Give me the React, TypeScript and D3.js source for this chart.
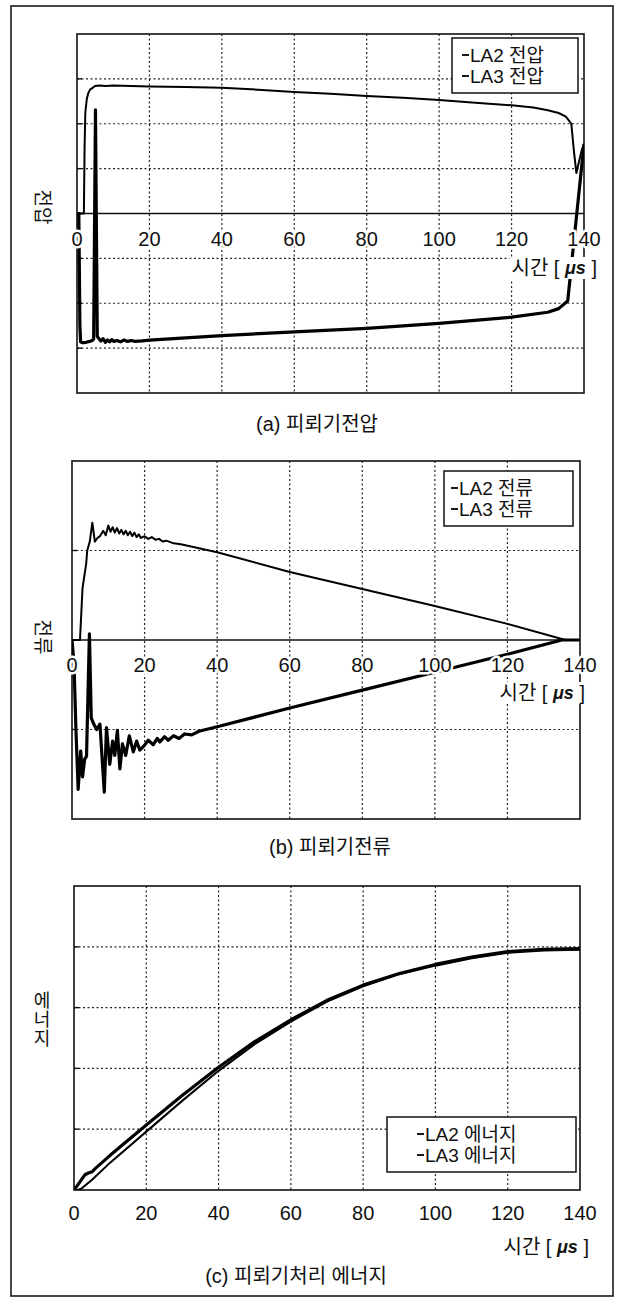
import React, { useEffect, useRef } from "react";
import * as d3 from "d3";

const W = 621;
const H = 1301;
const FONT = "'Liberation Sans', 'Noto Sans CJK KR', sans-serif";

// time axis (µs)
const timeTicks = [0, 20, 40, 60, 80, 100, 120, 140];

// (a) arrester voltage
const voltTimeLA2 = [0, 1.9, 2.1, 2.3, 2.7, 3.1, 3.6, 4.3, 5.0, 6, 8, 10, 15, 20, 30, 40, 50, 60, 70, 80, 90, 100, 110, 120, 126, 130, 133, 135, 136.5, 137.2, 137.9, 138.6, 139.4, 140];
const voltLA2 = [0, 0, 1.5, 2.25, 2.55, 2.68, 2.76, 2.8, 2.84, 2.85, 2.84, 2.85, 2.84, 2.83, 2.82, 2.8, 2.76, 2.71, 2.67, 2.62, 2.58, 2.53, 2.47, 2.41, 2.36, 2.3, 2.24, 2.16, 2.0, 1.4, 0.9, 1.15, 1.42, 1.55];
const voltTimeLA3 = [0, 0.5, 0.8, 1.0, 1.5, 2.5, 3.5, 4.2, 4.6, 5.1, 5.6, 6.1, 6.6, 7.2, 7.8, 8.4, 9.0, 9.6, 10.2, 11, 12, 13, 14, 15, 16, 18, 20, 30, 40, 60, 80, 100, 120, 130, 133, 135.5, 137.5, 140];
const voltLA3 = [0, 0, -2.5, -2.86, -2.88, -2.87, -2.85, -2.83, -2.8, 2.31, -2.74, -2.79, -2.84, -2.79, -2.87, -2.82, -2.86, -2.81, -2.85, -2.83, -2.86, -2.82, -2.85, -2.83, -2.85, -2.84, -2.82, -2.77, -2.72, -2.64, -2.56, -2.45, -2.31, -2.2, -2.12, -1.95, -0.4, 1.55];
const voltGrid = [-3, -2, -1, 1, 2, 3];

// (b) arrester current
const currTimeLA2 = [0, 2.2, 2.9, 3.9, 4.2, 4.9, 5.6, 6.3, 7.0, 7.7, 8.6, 9.3, 10.0, 10.6, 11.2, 11.8, 12.4, 13.0, 13.6, 14.2, 14.8, 15.4, 16.0, 16.6, 17.2, 17.8, 18.4, 19.0, 20, 21, 22, 23, 24, 25, 26, 28, 30, 40, 60, 80, 100, 120, 136, 140];
const currLA2 = [0, 0, 0.58, 0.85, 1.0, 1.1, 1.31, 1.1, 1.14, 1.16, 1.22, 1.17, 1.28, 1.21, 1.26, 1.2, 1.25, 1.19, 1.23, 1.18, 1.22, 1.17, 1.21, 1.16, 1.2, 1.15, 1.18, 1.14, 1.16, 1.13, 1.15, 1.12, 1.13, 1.1, 1.11, 1.08, 1.07, 0.98, 0.76, 0.57, 0.38, 0.18, 0, 0];
const currTimeLA3 = [0, 0.55, 1.1, 1.7, 2.4, 2.9, 3.5, 4.0, 4.8, 5.3, 6.0, 6.8, 7.7, 8.9, 9.5, 10.4, 11.2, 11.8, 12.5, 13.2, 13.9, 14.8, 15.8, 16.9, 17.8, 18.7, 19.9, 21, 22.4, 23.5, 24.2, 25.5, 26.5, 28, 29.5, 31, 33, 35, 40, 60, 80, 100, 120, 135, 140];
const currLA3 = [0, -0.27, -1.02, -1.67, -1.24, -1.53, -1.33, -1.3, 0.07, -0.87, -0.94, -1.0, -0.94, -1.7, -0.98, -1.39, -1.13, -1.29, -1.01, -1.44, -1.16, -1.29, -1.07, -1.25, -1.13, -1.23, -1.18, -1.12, -1.17, -1.1, -1.14, -1.08, -1.12, -1.07, -1.1, -1.05, -1.06, -1.02, -0.97, -0.76, -0.56, -0.36, -0.16, 0, 0];
const currGrid = [-1, 1];

// (c) arrester energy
const energyTimeLA2 = [0, 1, 2, 5, 10, 20, 30, 40, 50, 60, 70, 80, 90, 100, 110, 120, 130, 140];
const energyLA2 = [0, 0, 0.02, 0.17, 0.45, 0.96, 1.47, 1.96, 2.4, 2.77, 3.1, 3.35, 3.55, 3.69, 3.81, 3.9, 3.94, 3.95];
const energyTimeLA3 = [0, 1, 3, 4, 5, 6, 10, 20, 30, 40, 50, 60, 70, 80, 90, 100, 110, 120, 130, 140];
const energyLA3 = [0, 0.08, 0.25, 0.28, 0.3, 0.36, 0.57, 1.07, 1.56, 2.02, 2.44, 2.8, 3.12, 3.37, 3.56, 3.71, 3.83, 3.92, 3.96, 3.97];
const energyGrid = [1, 2, 3, 4];

const seriesNames = ["LA2", "LA3"];

const App = () => {
    const svgRef = useRef<SVGSVGElement>(null);

    useEffect(() => {
        const zip = (ts: number[], vs: number[]) => ts.map((t, i) => [t, vs[i]] as [number, number]);

        const panels = [
            {
                key: "a", left: 77, right: 584, top: 34, bottom: 393, yMin: -4, yMax: 4, grid: voltGrid, zero: true,
                tickY: 239, titleX: 597, titleY: 268,
                yLabel: "전압", yLabelY: 207, stacked: false,
                legend: { x: 452, y: 38, w: 126, h: 55, dashX: 462, textX: 470, rows: [55, 76] },
                unit: "전압", caption: "(a) 피뢰기전압", capX: 317, capY: 424,
                lines: [zip(voltTimeLA2, voltLA2), zip(voltTimeLA3, voltLA3)],
            },
            {
                key: "b", left: 72, right: 580, top: 461, bottom: 819, yMin: -2, yMax: 2, grid: currGrid, zero: true,
                tickY: 665, titleX: 585, titleY: 693,
                yLabel: "전류", yLabelY: 637, stacked: false,
                legend: { x: 444, y: 471, w: 129, h: 55, dashX: 451, textX: 459, rows: [488, 509] },
                unit: "전류", caption: "(b) 피뢰기전류", capX: 330, capY: 847,
                lines: [zip(currTimeLA2, currLA2), zip(currTimeLA3, currLA3)],
            },
            {
                key: "c", left: 74, right: 580, top: 886, bottom: 1190, yMin: 0, yMax: 5, grid: energyGrid, zero: false,
                tickY: 1213, titleX: 589, titleY: 1247,
                yLabel: "에너지", yLabelY: 1020, stacked: true,
                legend: { x: 387, y: 1117, w: 189, h: 55, dashX: 417, textX: 425, rows: [1134, 1155] },
                unit: "에너지", caption: "(c) 피뢰기처리 에너지", capX: 296, capY: 1276,
                lines: [zip(energyTimeLA2, energyLA2), zip(energyTimeLA3, energyLA3)],
            },
        ];

        const svg = d3.select(svgRef.current);
        svg.selectAll("*").remove();

        svg.append("rect").attr("width", W).attr("height", H).attr("fill", "#fff");

        // outer frame
        svg.append("rect")
            .attr("x", 11).attr("y", 6).attr("width", 602).attr("height", 1290)
            .attr("fill", "none").attr("stroke", "#1a1a1a").attr("stroke-width", 1.6);

        panels.forEach((p) => {
            const x = d3.scaleLinear().domain([0, 140]).range([p.left, p.right]);
            const y = d3.scaleLinear().domain([p.yMin, p.yMax]).range([p.bottom, p.top]);
            const g = svg.append("g").style("font-family", FONT);

            g.append("clipPath").attr("id", `clip-${p.key}`)
                .append("rect")
                .attr("x", p.left).attr("y", p.top)
                .attr("width", p.right - p.left).attr("height", p.bottom - p.top);

            // dotted grid
            g.selectAll(".vgrid").data(timeTicks.slice(1, -1)).join("line")
                .attr("x1", (d) => x(d)).attr("x2", (d) => x(d))
                .attr("y1", p.top).attr("y2", p.bottom)
                .attr("stroke", "#222").attr("stroke-width", 1.2).attr("stroke-dasharray", "2 2.5");
            g.selectAll(".hgrid").data(p.grid).join("line")
                .attr("x1", p.left).attr("x2", p.right)
                .attr("y1", (d) => y(d)).attr("y2", (d) => y(d))
                .attr("stroke", "#222").attr("stroke-width", 1.2).attr("stroke-dasharray", "2 2.5");

            // small inner ticks on left border
            g.selectAll(".ltick").data(p.zero ? [...p.grid, 0] : p.grid).join("line")
                .attr("x1", p.left).attr("x2", p.left + 5)
                .attr("y1", (d) => y(d)).attr("y2", (d) => y(d))
                .attr("stroke", "#111").attr("stroke-width", 1.4);

            if (p.zero) {
                g.append("line")
                    .attr("x1", p.left).attr("x2", p.right)
                    .attr("y1", y(0)).attr("y2", y(0))
                    .attr("stroke", "#111").attr("stroke-width", 1.6);
            }

            // plot border
            g.append("rect")
                .attr("x", p.left).attr("y", p.top)
                .attr("width", p.right - p.left).attr("height", p.bottom - p.top)
                .attr("fill", "none").attr("stroke", "#111").attr("stroke-width", 1.6);

            // series
            const lineGen = d3.line<[number, number]>()
                .x((d) => x(d[0]))
                .y((d) => y(d[1]));
            const widths = [2, 3.2];
            p.lines.forEach((pts, i) => {
                g.append("path")
                    .datum(pts)
                    .attr("clip-path", `url(#clip-${p.key})`)
                    .attr("d", lineGen)
                    .attr("fill", "none")
                    .attr("stroke", "#000")
                    .attr("stroke-width", widths[i])
                    .attr("stroke-linejoin", "round");
            });

            // tick labels
            g.selectAll(".tlabel").data(timeTicks).join("text")
                .attr("x", (d) => x(d)).attr("y", p.tickY)
                .attr("text-anchor", "middle").attr("dominant-baseline", "central")
                .attr("font-size", 20).attr("fill", "#111")
                .attr("stroke", "#fff").attr("stroke-width", 5).attr("stroke-linejoin", "round")
                .attr("paint-order", "stroke")
                .text((d) => d);

            // axis title with white background
            const tg = g.append("g");
            const title = tg.append("text")
                .attr("x", p.titleX).attr("y", p.titleY)
                .attr("text-anchor", "end").attr("dominant-baseline", "central")
                .attr("font-size", 20).attr("fill", "#111");
            title.append("tspan").text("시간 [ ");
            title.append("tspan").attr("font-style", "italic").attr("font-weight", "bold").attr("font-size", 18).text("μs");
            title.append("tspan").text(" ]");
            const bb = (title.node() as SVGTextElement).getBBox();
            tg.insert("rect", "text")
                .attr("x", bb.x - 2).attr("y", bb.y)
                .attr("width", bb.width + 4).attr("height", bb.height)
                .attr("fill", "#fff");

            // y label
            if (p.stacked) {
                const chars = Array.from(p.yLabel);
                chars.forEach((c, i) => {
                    g.append("text")
                        .attr("x", 42).attr("y", p.yLabelY + (i - (chars.length - 1) / 2) * 19)
                        .attr("text-anchor", "middle").attr("dominant-baseline", "central")
                        .attr("font-size", 18).attr("fill", "#111")
                        .text(c);
                });
            } else {
                g.append("text")
                    .attr("transform", `translate(42,${p.yLabelY}) rotate(90)`)
                    .attr("text-anchor", "middle").attr("dominant-baseline", "central")
                    .attr("font-size", 19).attr("fill", "#111")
                    .text(p.yLabel);
            }

            // legend
            const L = p.legend;
            g.append("rect")
                .attr("x", L.x).attr("y", L.y).attr("width", L.w).attr("height", L.h)
                .attr("fill", "#fff").attr("stroke", "#111").attr("stroke-width", 1.5);
            seriesNames.forEach((name, i) => {
                g.append("line")
                    .attr("x1", L.dashX).attr("x2", L.dashX + 7)
                    .attr("y1", L.rows[i]).attr("y2", L.rows[i])
                    .attr("stroke", "#000").attr("stroke-width", 1.8);
                g.append("text")
                    .attr("x", L.textX).attr("y", L.rows[i])
                    .attr("dominant-baseline", "central")
                    .attr("font-size", 19).attr("fill", "#111")
                    .text(`${name} ${p.unit}`);
            });

            // caption
            g.append("text")
                .attr("x", p.capX).attr("y", p.capY)
                .attr("text-anchor", "middle").attr("dominant-baseline", "central")
                .attr("font-size", 20).attr("fill", "#111")
                .text(p.caption);
        });
    }, []);

    return (
        <svg
            ref={svgRef}
            width={W}
            height={H}
            style={{ position: "absolute", left: 0, top: 0, display: "block" }}
        />
    );
};

export default App;
